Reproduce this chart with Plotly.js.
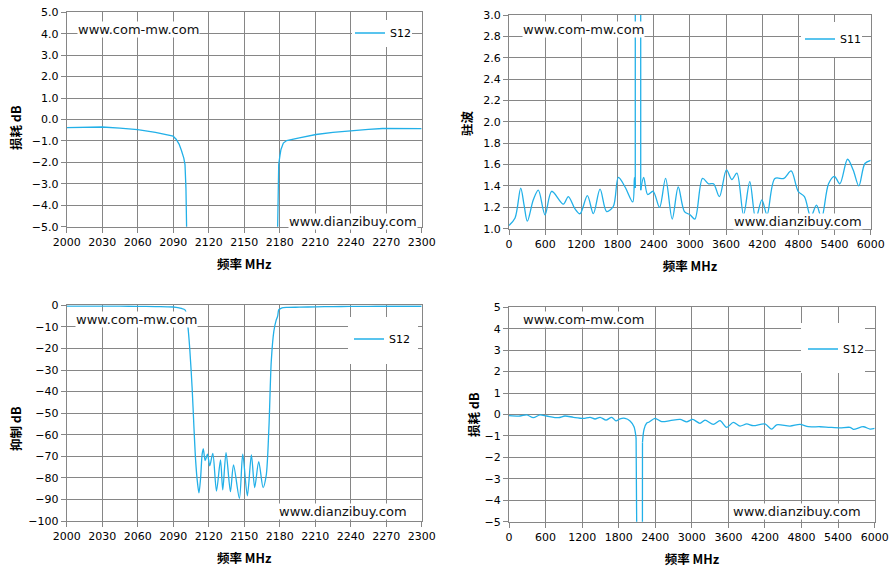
<!DOCTYPE html>
<html>
<head>
<meta charset="utf-8">
<script src="https://cdn.plot.ly/plotly-3.0.1.min.js"></script>
<style>
  html, body { margin: 0; padding: 0; background: #fff; }
  #chart { width: 896px; height: 582px; }
</style>
</head>
<body>
<div id="chart"></div>
<script>
// narrow band sweep 2000-2300 MHz, S12 (used for the loss and rejection plots)
const bandFreq = [2000, 2015, 2030, 2045, 2060, 2075, 2085, 2090, 2092.5, 2095, 2097, 2099, 2100, 2100.8, 2101.5, 2102.5,
  2104, 2106, 2107.6, 2109, 2110.5, 2111.8, 2113.2, 2114.5, 2115.5, 2117, 2119, 2120.9, 2123.5, 2126.6, 2130, 2131.9,
  2134.7, 2138.4, 2141, 2146, 2148.8, 2152.7, 2156.1, 2158.9, 2162.3, 2166, 2168.6, 2170.9, 2172.9, 2175.1, 2177,
  2178.3, 2179.2, 2180.2, 2181.1, 2183.1, 2185.9, 2196.6, 2210.7, 2225, 2239, 2255, 2267, 2285, 2300];
const bandS12 = [-0.38, -0.36, -0.35, -0.4, -0.47, -0.6, -0.7, -0.78, -0.92, -1.15, -1.45, -1.8, -2.1, -3.2, -5.5, -10,
  -20, -38, -57, -72, -82, -87, -80, -69, -66.6, -72, -69, -74.4, -68.6, -86.1, -71.7, -85.6,
  -68.3, -86.4, -74, -89.5, -69, -88.3, -69.4, -84.5, -72.5, -84.5, -79, -57, -26, -12, -7,
  -5, -2.1, -1.7, -1.4, -1.1, -0.98, -0.86, -0.7, -0.6, -0.52, -0.46, -0.42, -0.43, -0.43];

// wide sweep 0-6000 MHz, S11 VSWR (stopband goes far off the top)
const wideFreqVswr = [0, 100, 194, 250, 304, 403, 486, 597, 708, 901, 984, 1089, 1178, 1300, 1399, 1510, 1620, 1731,
  1814, 1925, 2052, 2080, 2094, 2100, 2180, 2185, 2234, 2300, 2390, 2497, 2597, 2707, 2807, 2910, 3003, 3083, 3210,
  3310, 3392, 3490, 3607, 3696, 3780, 3890, 3994, 4092, 4194, 4280, 4410, 4560, 4680, 4796, 4900, 5005, 5100, 5184,
  5300, 5397, 5488, 5615, 5709, 5803, 5903, 6000];
const wideS11 = [1.03, 1.10, 1.38, 1.22, 1.07, 1.27, 1.36, 1.13, 1.35, 1.23, 1.30, 1.19, 1.14, 1.31, 1.14, 1.37, 1.16, 1.21,
  1.48, 1.39, 1.25, 1.48, 1.38, 20, 20, 1.36, 1.48, 1.32, 1.35, 1.20, 1.47, 1.09, 1.39, 1.16, 1.13, 1.09, 1.47,
  1.42, 1.42, 1.30, 1.55, 1.46, 1.52, 1.13, 1.44, 1.09, 1.27, 1.13, 1.47, 1.47, 1.54, 1.35, 1.30, 1.11, 1.22, 1.10,
  1.42, 1.49, 1.42, 1.65, 1.55, 1.40, 1.61, 1.64];

// wide sweep 0-6000 MHz, S12 loss
const wideFreqLoss = [0, 180, 290, 399, 508, 618, 810, 919, 1056, 1220, 1330, 1412, 1494, 1592, 1685, 1756, 1822, 1904,
  1986, 2051, 2085, 2100, 2180, 2190, 2215, 2260, 2300, 2396, 2505, 2642, 2806, 2915, 3013, 3133, 3216, 3353, 3462, 3572,
  3681, 3790, 3900, 4009, 4200, 4310, 4392, 4611, 4775, 4912, 5103, 5267, 5431, 5595, 5650, 5814, 5924, 6000];
const wideS12 = [-0.05, -0.07, -0.02, -0.15, -0.02, -0.07, -0.15, -0.07, -0.13, -0.18, -0.13, -0.21, -0.13, -0.26, -0.13,
  -0.30, -0.2, -0.18, -0.3, -0.57, -1.1, -40, -40, -1.3, -0.7, -0.4, -0.35, -0.18, -0.33, -0.29, -0.23, -0.34, -0.23, -0.41,
  -0.26, -0.46, -0.29, -0.6, -0.37, -0.54, -0.44, -0.52, -0.44, -0.68, -0.48, -0.54, -0.46, -0.57, -0.57, -0.6, -0.62,
  -0.6, -0.69, -0.57, -0.68, -0.65];

const LINE = '#22b0e8';
const GRID = '#868686';
const FONT = 'DejaVu Sans, Verdana, sans-serif';
const CJK = 'Noto Sans CJK SC, sans-serif';

// split a sweep at its off-scale stopband: the in-range part is smoothed,
// the jump out of range and back is drawn straight
function split(freq, vals, isOff) {
  const off = vals.map(isOff);
  const first = off.indexOf(true), last = off.lastIndexOf(true);
  const smooth = vals.map((v, i) => off[i] ? null : v);
  return { smooth, sx: freq.slice(first - 1, last + 2), sy: vals.slice(first - 1, last + 2) };
}
const vs = split(wideFreqVswr, wideS11, v => v > 3);
const ls = split(wideFreqLoss, wideS12, v => v < -5);

const traces = [
  { x: bandFreq, y: bandS12, name: 'S12', type: 'scatter', mode: 'lines', line: { color: LINE, width: 1.3 }, xaxis: 'x', yaxis: 'y', legend: 'legend' },
  { x: wideFreqVswr, y: vs.smooth, name: 'S11', type: 'scatter', mode: 'lines', connectgaps: false, line: { color: LINE, width: 1.3, shape: 'spline', smoothing: 0.9 }, xaxis: 'x2', yaxis: 'y2', legend: 'legend2' },
  { x: vs.sx, y: vs.sy, name: 'S11', type: 'scatter', mode: 'lines', showlegend: false, line: { color: LINE, width: 1.3 }, xaxis: 'x2', yaxis: 'y2' },
  { x: bandFreq, y: bandS12, name: 'S12', type: 'scatter', mode: 'lines', line: { color: LINE, width: 1.3, shape: 'spline', smoothing: 0.8 }, xaxis: 'x3', yaxis: 'y3', legend: 'legend3' },
  { x: wideFreqLoss, y: ls.smooth, name: 'S12', type: 'scatter', mode: 'lines', connectgaps: false, line: { color: LINE, width: 1.3, shape: 'spline', smoothing: 0.8 }, xaxis: 'x4', yaxis: 'y4', legend: 'legend4' },
  { x: ls.sx, y: ls.sy, name: 'S12', type: 'scatter', mode: 'lines', showlegend: false, line: { color: LINE, width: 1.3 }, xaxis: 'x4', yaxis: 'y4' },
];

function xAxis(domain, range, dtick, anchor) {
  return {
    domain, range, dtick, tick0: range[0], anchor,
    showgrid: true, gridcolor: GRID, gridwidth: 1, zeroline: false,
    showline: true, linecolor: GRID, mirror: true,
    ticks: 'outside', ticklen: 5, tickcolor: GRID,
    tickfont: { family: FONT, size: 11, color: '#000' },
    title: { text: '<b>频率</b> <b>MHz</b>', font: { family: CJK, size: 12.5, color: '#000' }, standoff: 12 },
  };
}
function yAxis(domain, range, dtick, fmt, anchor) {
  return {
    domain, range, dtick, tick0: range[0], tickformat: fmt, anchor,
    showgrid: true, gridcolor: GRID, gridwidth: 1, zeroline: false,
    showline: true, linecolor: GRID, mirror: true,
    ticks: 'outside', ticklen: 5, tickcolor: GRID,
    tickfont: { family: FONT, size: 11, color: '#000' },
  };
}

const legendBase = { bgcolor: 'rgba(0,0,0,0)', borderwidth: 0, font: { family: FONT, size: 11, color: '#000' }, xanchor: 'left', yanchor: 'middle', itemwidth: 30 };

function mark(text, x, y, xanchor) {
  return { text, x, y, xref: 'paper', yref: 'paper', xanchor, yanchor: 'middle', showarrow: false,
    bgcolor: '#fff', borderpad: 0, font: { family: FONT, size: 13, color: '#111' } };
}
function ytitle(text, x, y) {
  return { text: '<b>' + text + '</b>', x: x / 896, y: 1 - y / 582, xref: 'paper', yref: 'paper', textangle: -90,
    xanchor: 'center', yanchor: 'middle', showarrow: false, font: { family: CJK, size: 12.5, color: '#000' } };
}
function box(x0, x1, y0, y1) {
  return { type: 'rect', xref: 'paper', yref: 'paper', x0: x0 / 896, x1: x1 / 896, y0: 1 - y1 / 582, y1: 1 - y0 / 582,
    fillcolor: '#fff', line: { width: 0 }, layer: 'above' };
}

const layout = {
  width: 896, height: 582,
  paper_bgcolor: '#fff', plot_bgcolor: '#fff',
  margin: { l: 0, r: 0, t: 0, b: 0 },
  showlegend: true,
  xaxis: xAxis([0.0744, 0.4706], [2000, 2300], 30, 'y'),
  yaxis: yAxis([0.6105, 0.9789], [-5, 5], 1, '.1f', 'x'),
  xaxis2: xAxis([0.5681, 0.9718], [0, 6000], 600, 'y2'),
  yaxis2: yAxis([0.6071, 0.9742], [1, 3], 0.2, '.1f', 'x2'),
  xaxis3: xAxis([0.0744, 0.4706], [2000, 2300], 30, 'y3'),
  yaxis3: yAxis([0.1048, 0.4754], [-100, 0], 10, 'd', 'x3'),
  xaxis4: xAxis([0.5681, 0.9762], [0, 6000], 600, 'y4'),
  yaxis4: yAxis([0.1036, 0.4720], [-5, 5], 1, 'd', 'x4'),
  legend: { ...legendBase, x: 350 / 896, y: 1 - 33 / 582 },
  legend2: { ...legendBase, x: 800 / 896, y: 1 - 39 / 582 },
  legend3: { ...legendBase, x: 349 / 896, y: 1 - 339 / 582 },
  legend4: { ...legendBase, x: 803 / 896, y: 1 - 349 / 582 },
  shapes: [box(352, 412, 20, 47), box(801, 862, 22, 57), box(348, 418, 317, 364), box(801, 865, 323, 373)],
  annotations: [
    ytitle('损耗 dB', 15, 128),
    ytitle('驻波', 466, 123),
    ytitle('抑制 dB', 15, 429),
    ytitle('损耗 dB', 473, 415),
    mark('www.com-mw.com', 77 / 896, 1 - 29.5 / 582, 'left'),
    mark('www.dianzibuy.com', 418 / 896, 1 - 221 / 582, 'right'),
    mark('www.com-mw.com', 522 / 896, 1 - 29 / 582, 'left'),
    mark('www.dianzibuy.com', 863 / 896, 1 - 221 / 582, 'right'),
    mark('www.com-mw.com', 75 / 896, 1 - 319 / 582, 'left'),
    mark('www.dianzibuy.com', 408 / 896, 1 - 511 / 582, 'right'),
    mark('www.com-mw.com', 522 / 896, 1 - 319 / 582, 'left'),
    mark('www.dianzibuy.com', 862 / 896, 1 - 511 / 582, 'right'),
  ],
};

Plotly.newPlot('chart', traces, layout, { displayModeBar: false, staticPlot: true });
</script>
</body>
</html>
